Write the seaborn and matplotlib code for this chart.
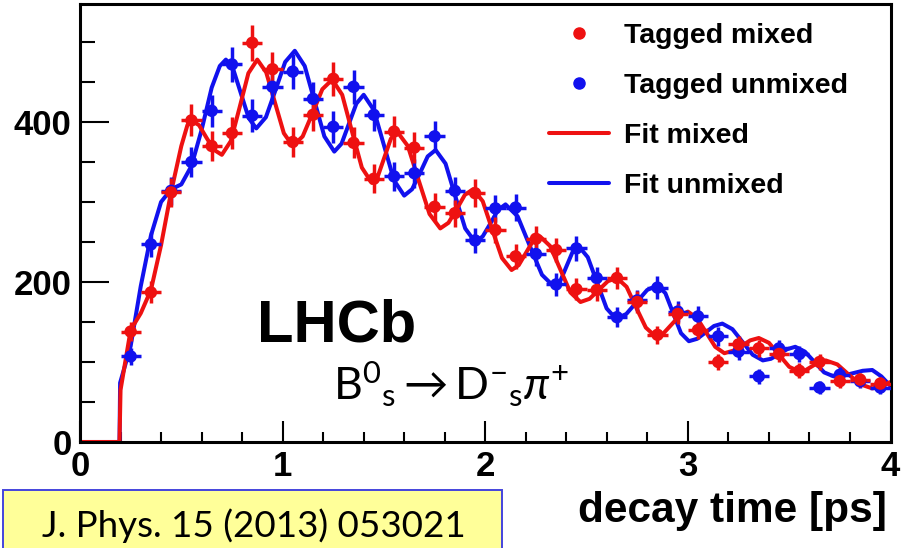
import numpy as np
import matplotlib
matplotlib.use("Agg")
import matplotlib.pyplot as plt
import seaborn as sns
from matplotlib.lines import Line2D
from matplotlib.patches import Rectangle
from matplotlib.ticker import MultipleLocator

# ---------------- data ----------------
bin_centers = [0.25, 0.35, 0.45, 0.55, 0.65, 0.75, 0.85, 0.95, 1.05, 1.15,
               1.25, 1.35, 1.45, 1.55, 1.65, 1.75, 1.85, 1.95, 2.05, 2.15,
               2.25, 2.35, 2.45, 2.55, 2.65, 2.75, 2.85, 2.95, 3.05, 3.15,
               3.25, 3.35, 3.45, 3.55, 3.65, 3.75, 3.85, 3.95]
mixed_counts = [138, 187, 312, 402, 370, 386, 499, 466, 375, 409,
                454, 374, 329, 388, 368, 294, 286, 311, 265, 232,
                254, 240, 191, 190, 205, 175, 134, 160, 140, 100,
                122, 117, 110, 89, 100, 76, 78, 73]
unmixed_counts = [107, 247, 314, 350, 414, 472, 408, 444, 463, 429,
                  394, 444, 409, 332, 336, 382, 314, 252, 292, 293,
                  235, 197, 242, 205, 156, 177, 193, 163, 157, 132,
                  113, 82, 117, 110, 68, 84, 76, 68]

fit_mixed_t = [0, 0.195, 0.20, 0.25, 0.30, 0.35, 0.40, 0.45, 0.50, 0.53, 0.55, 0.5875, 0.625, 0.6625,
               0.70, 0.744, 0.7875, 0.831, 0.875, 0.919, 0.9625, 1.006, 1.05, 1.099, 1.1475, 1.196,
               1.245, 1.294, 1.3425, 1.391, 1.44, 1.471, 1.5025, 1.534, 1.565, 1.618, 1.6715, 1.725,
               1.778, 1.8185, 1.859, 1.8995, 1.94, 1.9875, 2.035, 2.0825, 2.13, 2.165, 2.20, 2.235,
               2.27, 2.32, 2.37, 2.42, 2.47, 2.515, 2.56, 2.605, 2.65, 2.6975, 2.745, 2.7925, 2.84,
               2.88, 2.92, 2.96, 3.0, 3.045, 3.09, 3.135, 3.18, 3.2225, 3.265, 3.3075, 3.35, 3.40,
               3.45, 3.50, 3.55, 3.5825, 3.615, 3.6475, 3.68, 3.7375, 3.795, 3.8525, 3.91, 3.955, 4.0]
fit_mixed_y = [0, 0, 65, 140, 161, 190, 246, 313, 370, 396, 402, 396, 380, 365,
               359, 376, 418, 461, 478, 462, 424, 386, 370, 382, 411, 441,
               453, 434, 388, 343, 324, 333, 356, 379, 388, 370, 327, 285,
               267, 274, 291, 309, 316, 301, 265, 230, 215, 221, 236, 251,
               257, 245, 216, 187, 175, 179, 190, 201, 205, 194, 168, 143, 132,
               136, 147, 158, 163, 155, 137, 119, 111, 114, 120, 127, 130, 124,
               109, 94, 88, 90, 95, 100, 102, 97, 84, 72, 67, 70, 75]

fit_unmixed_t = [0, 0.195, 0.198, 0.25, 0.30, 0.35, 0.40, 0.45, 0.50, 0.55, 0.60, 0.65, 0.69, 0.72,
                 0.7575, 0.795, 0.8325, 0.87, 0.9175, 0.965, 1.0125, 1.06, 1.109, 1.1575, 1.206,
                 1.255, 1.291, 1.3275, 1.364, 1.40, 1.45, 1.50, 1.55, 1.60, 1.639, 1.6775, 1.716,
                 1.755, 1.804, 1.8525, 1.901, 1.95, 1.9875, 2.025, 2.0625, 2.10, 2.16, 2.22, 2.28,
                 2.34, 2.37, 2.40, 2.43, 2.46, 2.506, 2.5525, 2.599, 2.645, 2.696, 2.7475, 2.799,
                 2.85, 2.889, 2.9275, 2.966, 3.005, 3.046, 3.0875, 3.129, 3.17, 3.22, 3.27, 3.32,
                 3.37, 3.41, 3.45, 3.49, 3.53, 3.5775, 3.625, 3.6725, 3.72, 3.7675, 3.815, 3.8625,
                 3.91, 3.955, 4.0]
fit_unmixed_y = [0, 0, 74, 120, 195, 258, 300, 316, 322, 345, 390, 443, 470, 478,
                 465, 435, 405, 392, 406, 440, 475, 489, 470, 426, 382,
                 363, 373, 398, 423, 434, 415, 371, 327, 308, 316, 336, 357,
                 365, 348, 307, 267, 250, 257, 273, 290, 297, 282, 245, 209,
                 194, 201, 219, 237, 245, 231, 199, 167, 154, 160, 175, 190,
                 196, 186, 161, 136, 126, 129, 137, 145, 148, 141, 125, 109,
                 102, 104, 110, 116, 119, 113, 100, 87, 82, 83, 86, 89,
                 90, 82, 70]

legend_labels = ["Tagged mixed", "Tagged unmixed", "Fit mixed", "Fit unmixed"]
x_ticks = [0, 1, 2, 3, 4]
y_ticks = [0, 200, 400]

# ---------------- style ----------------
sns.set_style("white")
plt.rcParams["font.family"] = ["Liberation Sans", "DejaVu Sans"]
plt.rcParams["text.color"] = "black"
plt.rcParams["xtick.color"] = "black"
plt.rcParams["ytick.color"] = "black"
plt.rcParams["xtick.labelcolor"] = "black"
plt.rcParams["ytick.labelcolor"] = "black"
plt.rcParams["mathtext.fontset"] = "custom"
plt.rcParams["mathtext.rm"] = "Lato"
plt.rcParams["mathtext.it"] = "Lato:italic"
plt.rcParams["mathtext.bf"] = "Lato:bold"

RED = "#EE1111"
BLUE = "#1111EE"

W, H = 905, 548
fig = plt.figure(figsize=(W / 100, H / 100), dpi=100)
ax = fig.add_axes([80 / W, (H - 442) / H, 810.5 / W, 438 / H])

sns.lineplot(x=fit_unmixed_t, y=fit_unmixed_y, color=BLUE, linewidth=2.9,
             estimator=None, sort=False, ax=ax)
sns.lineplot(x=fit_mixed_t, y=fit_mixed_y, color=RED, linewidth=2.9,
             estimator=None, sort=False, ax=ax)

for counts, col in ((unmixed_counts, BLUE), (mixed_counts, RED)):
    c = np.asarray(counts, dtype=float)
    ax.errorbar(bin_centers, c, xerr=0.05, yerr=np.sqrt(c), fmt="none",
                ecolor=col, elinewidth=2.5, capsize=0, zorder=3)
    sns.scatterplot(x=bin_centers, y=c, color=col, s=80, edgecolor="none",
                    ax=ax, zorder=4)

ax.set_xlim(0, 4)
ax.set_ylim(0, 547.5)
ax.set_xticks(x_ticks)
ax.set_yticks(y_ticks)
ax.set_xticklabels([str(v) for v in x_ticks])
ax.set_yticklabels([str(v) for v in y_ticks])
ax.xaxis.set_minor_locator(MultipleLocator(0.2))
ax.yaxis.set_minor_locator(MultipleLocator(50))
ax.tick_params(axis="both", which="both", direction="in", color="black",
               width=1.5, bottom=True, left=True, top=False, right=False)
ax.tick_params(axis="x", which="major", length=15, labelsize=25, pad=6)
ax.tick_params(axis="x", which="minor", length=7.5)
ax.tick_params(axis="y", which="major", length=21, labelsize=25, pad=6)
ax.tick_params(axis="y", which="minor", length=10.5)
for lab in ax.get_xticklabels() + ax.get_yticklabels():
    lab.set_fontweight("bold")
    lab.set_color("black")
for sp in ax.spines.values():
    sp.set_linewidth(2.2)
    sp.set_color("black")
ax.set_xlabel("")
ax.set_ylabel("")

# x-axis title
fig.text(887 / W, (H - 522) / H, "decay time [ps]", ha="right", va="baseline",
         fontsize=30.5, fontweight="bold", color="black")

# legend
handles = [
    Line2D([], [], color=RED, marker="o", linestyle="none", markersize=8),
    Line2D([], [], color=BLUE, marker="o", linestyle="none", markersize=8),
    Line2D([], [], color=RED, linewidth=2.9),
    Line2D([], [], color=BLUE, linewidth=2.9),
]
leg = fig.legend(handles, legend_labels, loc="upper left",
                 bbox_to_anchor=(549 / W, 1 - 23 / H), frameon=False,
                 prop={"family": "Liberation Sans", "weight": "bold", "size": 20.5},
                 handlelength=2.1, handletextpad=0.55, labelspacing=0.84,
                 borderpad=0, borderaxespad=0)
for t in leg.get_texts():
    t.set_color("black")

# LHCb label and decay
fig.text(257 / W, (H - 342) / H, "LHCb", fontsize=43, fontweight="bold",
         ha="left", va="baseline", color="black")
fig.text(333 / W, (H - 400) / H,
         r"$\mathrm{B}^{0}{}_{\mathrm{s}}\rightarrow\mathrm{D}^{-}{}_{\mathrm{s}}\pi^{+}$",
         fontsize=32, ha="left", va="baseline", color="black")

# citation box
fig.patches.append(Rectangle((3 / W, -0.05), 499 / W, 0.05 + (H - 490) / H,
                             transform=fig.transFigure, facecolor="#FFFF99",
                             edgecolor="#4444DD", linewidth=1.4))
fig.text(254 / W, (H - 537) / H, "J. Phys. 15 (2013) 053021", fontsize=26.5,
         family="Lato", ha="center", va="baseline", color="black")

fig.savefig("out.png", dpi=100)
